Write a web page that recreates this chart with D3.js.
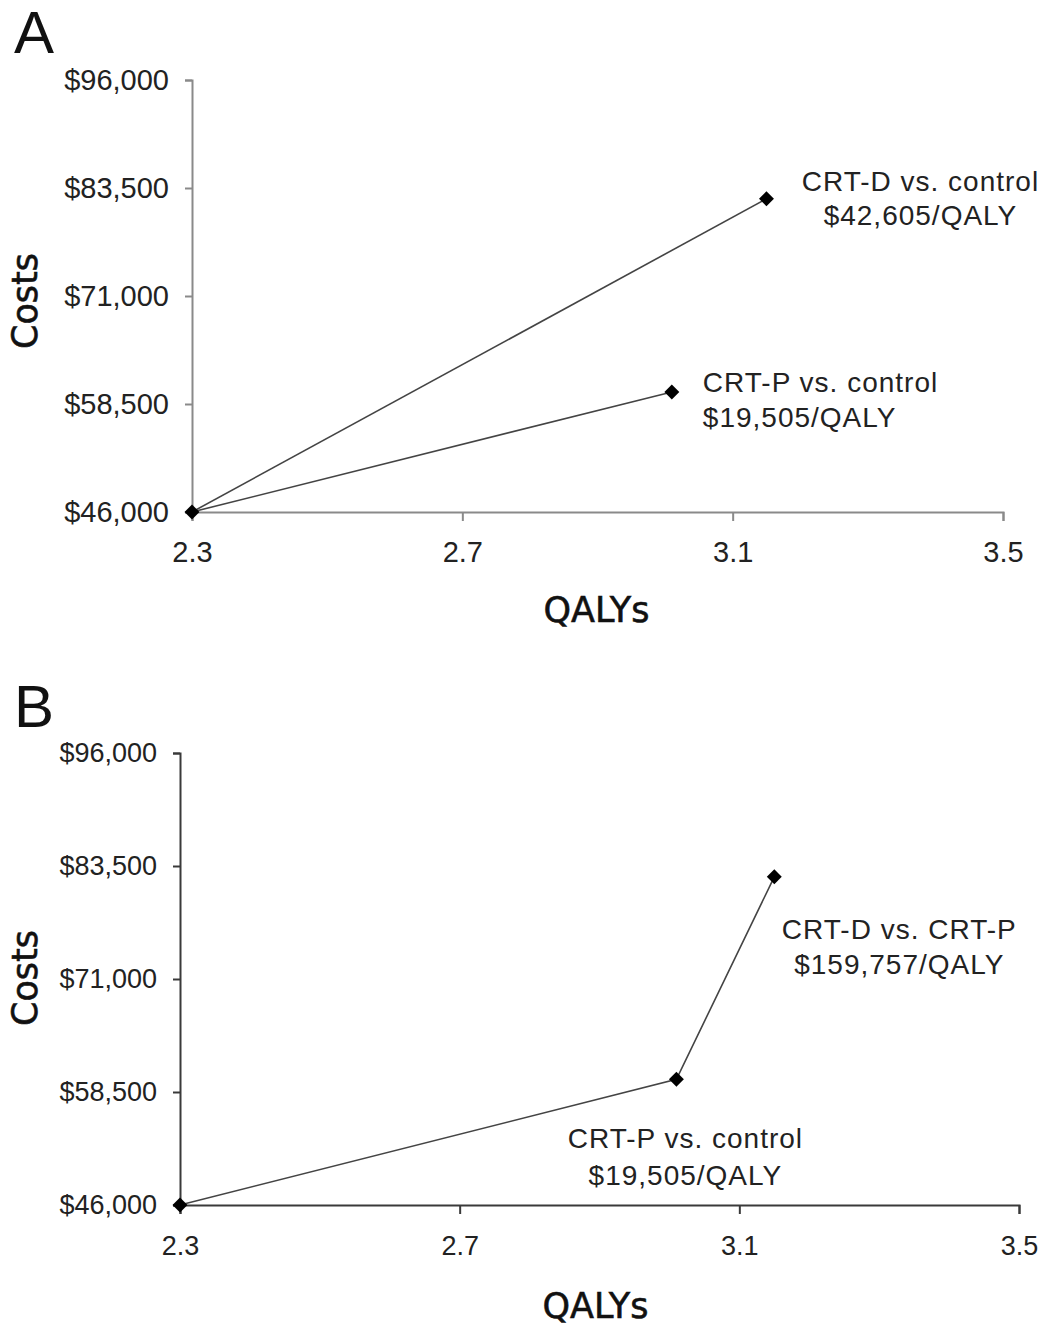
<!DOCTYPE html>
<html>
<head>
<meta charset="utf-8">
<script src="https://cdn.jsdelivr.net/npm/d3@7"></script>
<style>
  body { margin: 0; background: #fff; }
  svg { display: block; }
</style>
</head>
<body>
<script>
// ---- Data ----
const xTicks = [2.3, 2.7, 3.1, 3.5];
const yTicks = [46000, 58500, 71000, 83500, 96000];

// Panel A: each strategy vs. control (origin = control)
const panelA_control = { qaly: 2.3, cost: 46000 };
const panelA_points = [
  { name: "CRT-D vs. control", icer: "$42,605/QALY", qaly: 3.15, cost: 82250 },
  { name: "CRT-P vs. control", icer: "$19,505/QALY", qaly: 3.01, cost: 59900 }
];

// Panel B: efficiency frontier control -> CRT-P -> CRT-D
const panelB_names = ["control", "CRT-P", "CRT-D"];
const panelB_qaly = [2.3, 3.01, 3.15];
const panelB_cost = [46000, 59900, 82300];
const panelB_labels = [
  { name: "CRT-P vs. control", icer: "$19,505/QALY", at: 1 },
  { name: "CRT-D vs. CRT-P", icer: "$159,757/QALY", at: 2 }
];

// ---- Drawing ----
const W = 1049, H = 1328;
const svg = d3.select("body").append("svg").attr("width", W).attr("height", H);

const fmt = d3.format("$,");
const diamond = d3.symbol().type(d3.symbolSquare).size(112);

function drawPanel(cfg) {
  const x = d3.scaleLinear().domain([2.3, 3.5]).range([cfg.x0, cfg.x1]);
  const y = d3.scaleLinear().domain([46000, 96000]).range([cfg.y0, cfg.y1]);
  const g = svg.append("g");

  // axes
  const ya = g.append("g").attr("transform", `translate(${cfg.x0},0)`)
    .call(d3.axisLeft(y).tickValues(yTicks).tickFormat(fmt).tickSize(7).tickPadding(cfg.yPad));
  const xa = g.append("g").attr("transform", `translate(0,${cfg.y0})`)
    .call(d3.axisBottom(x).tickValues(xTicks).tickFormat(d3.format(".1f")).tickSize(9).tickPadding(cfg.xPad));
  [ya, xa].forEach(a => {
    a.selectAll("path,line").attr("stroke", cfg.axisColor).attr("stroke-width", 2);
    a.selectAll("text").attr("font-family", "'Liberation Sans', Arial, sans-serif")
      .attr("font-size", cfg.tickFont).attr("fill", "#222");
  });

  // panel letter
  g.append("text").attr("x", 14).attr("y", cfg.letterY).text(cfg.letter)
    .attr("font-family", "'Liberation Sans', Arial, sans-serif").attr("font-size", 60).attr("fill", "#111");

  // axis titles
  g.append("text").attr("x", (cfg.x0 + cfg.x1) / 2 + cfg.xtDx).attr("y", cfg.xtY).text("QALYs")
    .attr("text-anchor", "middle").attr("font-family", "'DejaVu Sans', Verdana, sans-serif")
    .attr("font-size", 35).attr("fill", "#111").attr("stroke", "#111").attr("stroke-width", 0.6);
  g.append("text").attr("transform", `translate(37,${cfg.ytY}) rotate(-90)`).text("Costs")
    .attr("text-anchor", "middle").attr("font-family", "'DejaVu Sans', Verdana, sans-serif")
    .attr("font-size", 35).attr("fill", "#111").attr("stroke", "#111").attr("stroke-width", 0.6);

  return { g, x, y };
}

function label(g, px, py, dx, dy1, dy2, anchor, l1, l2) {
  const t = g.append("g").attr("font-family", "'Liberation Sans', Arial, sans-serif")
    .attr("font-size", 28).attr("fill", "#222").attr("text-anchor", anchor)
    .attr("letter-spacing", 1);
  t.append("text").attr("x", px + dx).attr("y", py + dy1).text(l1);
  t.append("text").attr("x", px + dx).attr("y", py + dy2).text(l2);
}

// Panel A
{
  const { g, x, y } = drawPanel({
    x0: 192, x1: 1003, y0: 512, y1: 80, letter: "A", letterY: 53,
    axisColor: "#8a8a8a", tickFont: 29, yPad: 16, xPad: 20,
    xtDx: -1, xtY: 622, ytY: 301
  });
  const lines = g.append("g");
  panelA_points.forEach(p => {
    lines.append("line")
      .attr("x1", x(panelA_control.qaly)).attr("y1", y(panelA_control.cost))
      .attr("x2", x(p.qaly)).attr("y2", y(p.cost))
      .attr("stroke", "#444").attr("stroke-width", 1.6);
  });
  const pts = [panelA_control, ...panelA_points];
  g.selectAll(".mA").data(pts).join("path")
    .attr("d", diamond)
    .attr("transform", d => `translate(${x(d.qaly)},${y(d.cost)}) rotate(45)`)
    .attr("fill", "#000");
  const d0 = panelA_points[0], d1 = panelA_points[1];
  label(g, x(d0.qaly), y(d0.cost), 154, -8, 26, "middle", d0.name, d0.icer);
  label(g, x(d1.qaly), y(d1.cost), 31, 0, 35, "start", d1.name, d1.icer);
}

// Panel B
{
  const { g, x, y } = drawPanel({
    x0: 180, x1: 1019, y0: 1205, y1: 753, letter: "B", letterY: 727,
    axisColor: "#3a3a3a", tickFont: 27, yPad: 16, xPad: 22,
    xtDx: -4, xtY: 1318, ytY: 978
  });
  const pts = panelB_qaly.map((q, i) => ({ qaly: q, cost: panelB_cost[i], name: panelB_names[i] }));
  g.append("path").datum(pts)
    .attr("d", d3.line().x(d => x(d.qaly)).y(d => y(d.cost)))
    .attr("fill", "none").attr("stroke", "#444").attr("stroke-width", 1.6);
  g.selectAll(".mB").data(pts).join("path")
    .attr("d", diamond)
    .attr("transform", d => `translate(${x(d.qaly)},${y(d.cost)}) rotate(45)`)
    .attr("fill", "#000");
  const l0 = panelB_labels[0], l1 = panelB_labels[1];
  const p0 = pts[l0.at], p1 = pts[l1.at];
  label(g, x(p0.qaly), y(p0.cost), 9, 69, 106, "middle", l0.name, l0.icer);
  label(g, x(p1.qaly), y(p1.cost), 125, 62, 97, "middle", l1.name, l1.icer);
}
</script>
</body>
</html>
